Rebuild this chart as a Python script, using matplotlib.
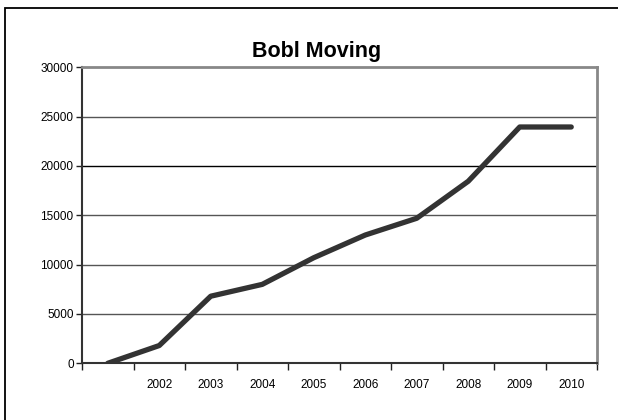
import matplotlib
matplotlib.use("Agg")
import matplotlib.pyplot as plt
from matplotlib.patches import Rectangle
from matplotlib.ticker import FixedLocator, NullFormatter

plt.rcParams["font.family"] = ["Liberation Sans", "DejaVu Sans"]

years = ["", "2002", "2003", "2004", "2005", "2006", "2007", "2008", "2009", "2010"]
moving = [0, 1800, 6800, 8000, 10700, 13000, 14700, 18450, 23950, 23950]
y_ticks = [0, 5000, 10000, 15000, 20000, 25000, 30000]

W, H = 618, 420
fig = plt.figure(figsize=(W / 100, H / 100), dpi=100)
ax = fig.add_axes([82 / W, 1 - 363.3 / H, (597 - 82) / W, (363.3 - 67.3) / H])

x = list(range(len(years)))
ax.plot(x, moving, color="#333333", linewidth=3.8, solid_capstyle="round",
        solid_joinstyle="round", zorder=3)

ax.set_xlim(-0.5, len(years) - 0.5)
ax.set_ylim(0, 30000)
ax.set_yticks(y_ticks)
ax.set_yticklabels([str(v) for v in y_ticks])
for v in y_ticks[1:-1]:
    ax.axhline(v, color="#000000" if v == 20000 else "#555555", linewidth=1, zorder=1)

ax.xaxis.set_major_locator(FixedLocator([i - 0.5 for i in range(len(years) + 1)]))
ax.xaxis.set_major_formatter(NullFormatter())
ax.xaxis.set_minor_locator(FixedLocator(x))
ax.set_xticklabels(years, minor=True)
ax.tick_params(axis="x", which="major", length=5, width=1, color="#222222", direction="out")
ax.tick_params(axis="x", which="minor", length=0, pad=11, labelsize=8.5)
ax.tick_params(axis="y", length=4, width=1, color="#222222", pad=2, labelsize=8.5)

for side in ["left", "bottom"]:
    ax.spines[side].set_color("#333333")
    ax.spines[side].set_linewidth(1.5)
for side in ["top", "right"]:
    ax.spines[side].set_color("#888888")
    ax.spines[side].set_linewidth(2)

fig.text(316.7 / W, 1 - 56.7 / H, "Bobl Moving", ha="center", va="baseline",
         fontsize=15.5, fontweight="bold")

fig.patches.append(Rectangle((5 / W, -0.1), 1.2, (H - 8) / H + 0.1, fill=False,
                             edgecolor="black", linewidth=1.3, transform=fig.transFigure,
                             figure=fig))

fig.savefig("out.png", dpi=100)
plt.close(fig)
